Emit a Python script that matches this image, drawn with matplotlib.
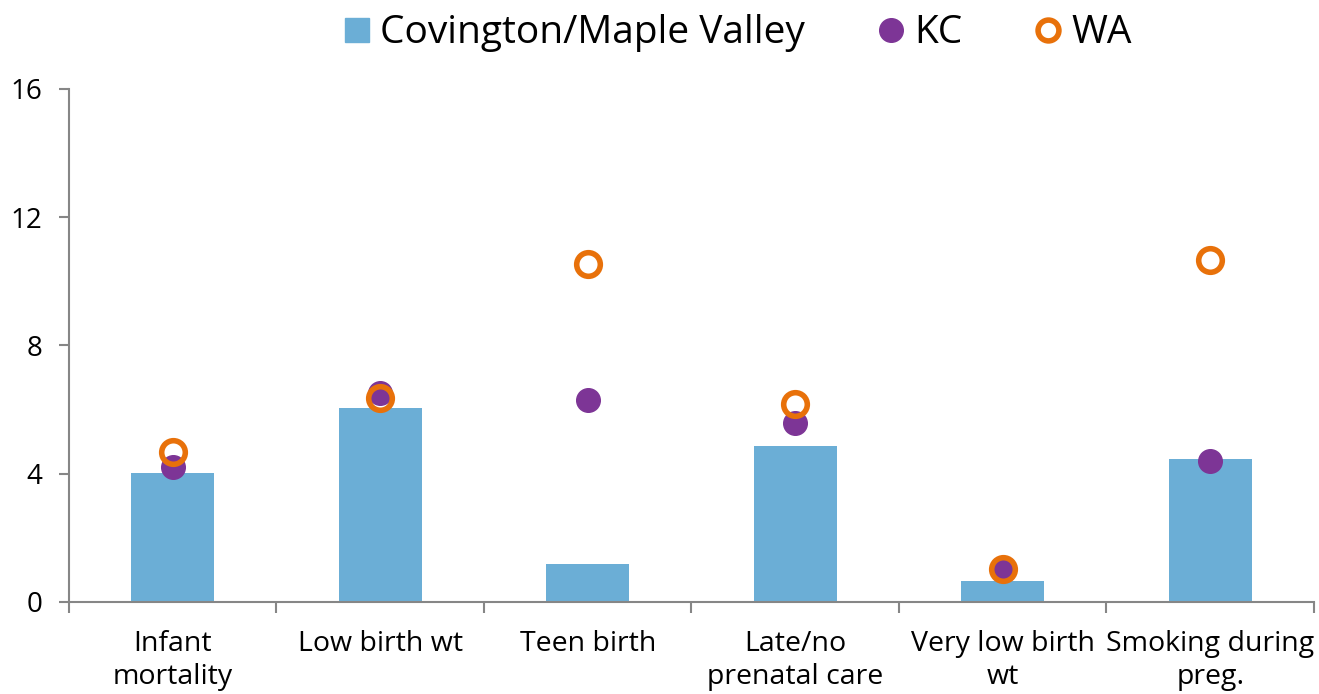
import matplotlib
matplotlib.use("Agg")
import matplotlib.pyplot as plt
from matplotlib.lines import Line2D
import numpy as np

categories = ["Infant\nmortality", "Low birth wt", "Teen birth",
              "Late/no\nprenatal care", "Very low birth\nwt", "Smoking during\npreg."]
cmv = [4.03, 6.05, 1.19, 4.87, 0.66, 4.45]
kc = [4.21, 6.52, 6.30, 5.58, 1.00, 4.40]
wa = [4.68, 6.36, 10.54, 6.18, 1.03, 10.67]
yticks = [0, 4, 8, 12, 16]

plt.rcParams['font.family'] = ['Open Sans', 'DejaVu Sans']

fig = plt.figure(figsize=(13.19, 6.94), dpi=100)
ax = fig.add_axes([0.0523, 0.1326, 0.9439, 0.7392])

x = np.arange(len(categories))
bar_c = "#6BAED6"
kc_c = "#7D3596"
wa_c = "#E8710A"
ax.bar(x, cmv, width=0.4, color=bar_c, zorder=2)
ax.plot(x, kc, 'o', ms=17, color=kc_c, mec=kc_c, ls='none', zorder=3)
ax.plot(x, wa, 'o', ms=17, mfc='none', mec=wa_c, mew=4, ls='none', zorder=4)

ax.set_xlim(-0.5, len(categories) - 0.5)
ax.set_ylim(0, 16)
ax.set_yticks(yticks)
ax.set_yticklabels([str(t) for t in yticks], fontsize=20)
ax.set_xticks(x)
ax.set_xticklabels(categories, fontsize=20.5, linespacing=1.25)
ax.tick_params(axis='x', length=0, pad=20)
ax.set_xticks(np.arange(len(categories) + 1) - 0.5, minor=True)
ax.tick_params(axis='x', which='minor', length=8, color='#868686', width=1.5)
ax.tick_params(axis='y', length=7, color='#868686', width=1.5, pad=12)
for s in ['top', 'right']:
    ax.spines[s].set_visible(False)
for s in ['left', 'bottom']:
    ax.spines[s].set_color('#868686')
    ax.spines[s].set_linewidth(1.5)

handles = [
    Line2D([], [], marker='s', ms=17, color=bar_c, ls='none'),
    Line2D([], [], marker='o', ms=17, color=kc_c, ls='none'),
    Line2D([], [], marker='o', ms=15, mfc='none', mec=wa_c, mew=4, ls='none'),
]
fig.legend(handles, ["Covington/Maple Valley", "KC", "WA"], loc='upper center',
           bbox_to_anchor=(0.557, 1.03), ncol=3, frameon=False, fontsize=28,
           handletextpad=0.1, columnspacing=1.7, handlelength=1.0)

fig.savefig("out.png", dpi=100)
